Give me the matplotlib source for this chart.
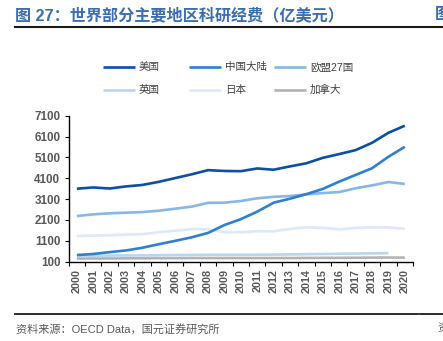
import matplotlib
matplotlib.use("Agg")
import matplotlib.pyplot as plt
from matplotlib.lines import Line2D

plt.rcParams['font.family'] = ['Liberation Sans', 'Noto Sans CJK SC', 'DejaVu Sans']

years = [str(y) for y in range(2000, 2021)]
yticks = [100, 1100, 2100, 3100, 4100, 5100, 6100, 7100]

usa = [3600, 3660, 3610, 3710, 3780, 3930, 4110, 4290, 4490, 4450, 4440, 4570,
       4510, 4670, 4820, 5080, 5260, 5450, 5800, 6280, 6620]
china = [420, 470, 560, 640, 770, 940, 1100, 1270, 1480, 1860, 2140, 2500,
         2930, 3120, 3340, 3590, 3940, 4260, 4580, 5130, 5610]
eu27 = [2290, 2370, 2420, 2450, 2480, 2545, 2640, 2740, 2920, 2930, 3010, 3140,
        3210, 3250, 3330, 3390, 3440, 3620, 3760, 3920, 3830]
uk = [380, 390, 395, 400, 405, 410, 420, 425, 430, 430, 430, 435,
      440, 450, 460, 470, 480, 490, 500, 510]
japan = [1330, 1350, 1370, 1400, 1420, 1520, 1580, 1670, 1650, 1520, 1510, 1560,
         1560, 1670, 1750, 1720, 1650, 1720, 1750, 1740, 1680]
canada = [250, 255, 255, 260, 265, 270, 270, 275, 275, 275, 275, 275,
          275, 275, 280, 285, 285, 290, 295, 300, 295]

series = [
    ("美国", usa, "#0d4ea6"),
    ("中国大陆", china, "#2f7fd3"),
    ("欧盟27国", eu27, "#86b7e6"),
    ("英国", uk, "#b9d5f0"),
    ("日本", japan, "#dde9f7"),
    ("加拿大", canada, "#b3b3b3"),
]

W, H = 443, 341
fig = plt.figure(figsize=(W / 100, H / 100), dpi=100)

def fx(px):
    return px / W

def fy(py):
    return 1 - py / H

ax = fig.add_axes([fx(68.7), fy(261.7), fx(413) - fx(68.7), fy(115.7) - fy(261.7)])

xpos = list(range(len(years)))
draw_order = [5, 3, 4, 2, 1, 0]
for i in draw_order:
    name, vals, col = series[i]
    ax.plot(xpos[:len(vals)], vals, color=col, lw=1.9, solid_capstyle='butt', zorder=3 + (5 - i) * 0.1)

ax.set_xlim(-0.5, len(years) - 0.5)
ax.set_ylim(100, 7100)
ax.set_yticks(yticks)
ax.set_yticklabels([str(t) for t in yticks], fontsize=8.4, fontweight='bold', color='#595959')
ax.set_xticks(xpos)
ax.set_xticklabels(years, rotation=90, fontsize=7.8, fontweight='bold', color='#595959')
ax.set_xticks([p - 0.5 for p in xpos] + [len(years) - 0.5], minor=True)
ax.tick_params(axis='x', which='major', length=0, pad=5)
ax.tick_params(axis='x', which='minor', length=3, width=0.8, direction='out', color='#000000')
ax.tick_params(axis='y', length=3, width=0.8, direction='out', color='#000000', pad=3)
for s in ['top', 'right']:
    ax.spines[s].set_visible(False)
for s in ['left', 'bottom']:
    ax.spines[s].set_linewidth(1.0)
    ax.spines[s].set_color('#000000')

# legend laid out on a fixed grid
leg_cols = [102.7, 188.7, 274.0]
leg_rows = [67.3, 90.0]
for k, (name, vals, col) in enumerate(series):
    r, c = divmod(k, 3)
    x0 = leg_cols[c]
    y0 = leg_rows[r]
    fig.add_artist(Line2D([fx(x0), fx(x0 + 32)], [fy(y0), fy(y0)], color=col, lw=1.9,
                          solid_capstyle='butt', transform=fig.transFigure))
    fig.text(fx(x0 + 36), fy(y0), name, fontsize=7.6, color='#404040',
             ha='left', va='center')

# title and rules
fig.text(fx(15), fy(15), "图 27：世界部分主要地区科研经费（亿美元）", fontsize=11.6,
         fontweight='bold', color='#3a6db4', ha='left', va='center')
fig.text(fx(435), fy(15), "图", fontsize=11.6, fontweight='bold', color='#3a6db4',
         ha='left', va='center')
fig.add_artist(Line2D([fx(15), fx(418)], [fy(26.8), fy(26.8)], color='#1a1a1a', lw=1.5,
                      transform=fig.transFigure))
fig.add_artist(Line2D([fx(419.5), fx(443)], [fy(26.8), fy(26.8)], color='#1a1a1a', lw=1.5,
                      transform=fig.transFigure))
fig.add_artist(Line2D([fx(15), fx(418)], [fy(314.3), fy(314.3)], color='#1a1a1a', lw=1.3,
                      transform=fig.transFigure))
fig.add_artist(Line2D([fx(419.5), fx(443)], [fy(314.3), fy(314.3)], color='#1a1a1a', lw=1.3,
                      transform=fig.transFigure))
fig.text(fx(16), fy(329), "资料来源：OECD Data，国元证券研究所", fontsize=8.0,
         color='#595959', ha='left', va='center')
fig.text(fx(437), fy(329), "资", fontsize=8.0, color='#595959', ha='left', va='center')

fig.savefig("out.png", dpi=100)
